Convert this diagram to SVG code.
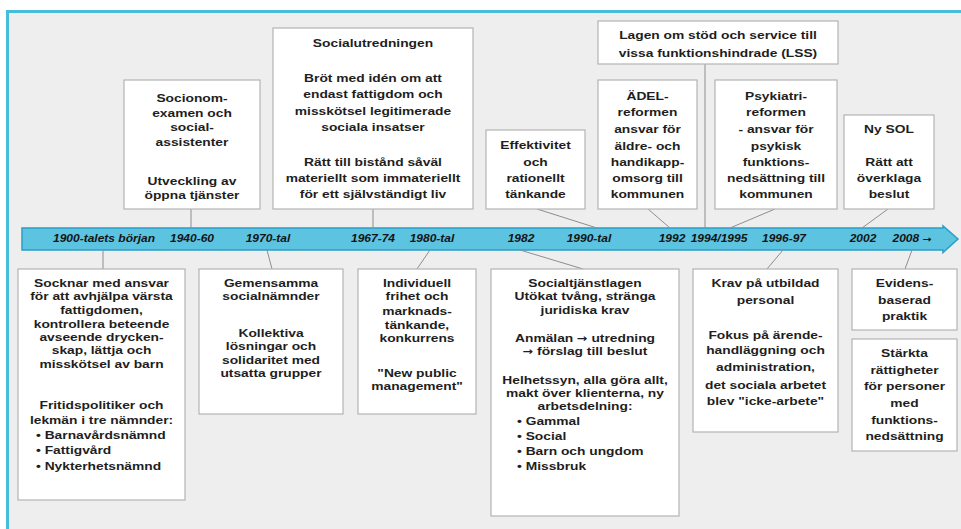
<svg xmlns="http://www.w3.org/2000/svg" width="961" height="529" viewBox="0 0 961 529">
<style>
.t{font-family:"Liberation Sans",Arial,sans-serif;font-weight:bold;font-size:11.5px;fill:#1e1e1e;text-anchor:middle}
.s{text-anchor:start}
.y{font-family:"Liberation Sans",Arial,sans-serif;font-weight:bold;font-style:italic;font-size:10px;fill:#141414;text-anchor:middle}
.a{font-family:"DejaVu Sans",sans-serif;font-style:normal}
.box{fill:#ffffff;stroke:#b4b4b4;stroke-width:1.2}
.c{stroke:#8e8e8e;stroke-width:1;fill:none}
</style>
<rect x="0" y="0" width="961" height="529" fill="#ffffff"/>
<rect x="7.5" y="11.5" width="980" height="540" fill="#eeeeee" stroke="#45bddb" stroke-width="3"/>
<g id="timeline">
<path d="M22,228 H943 V226 L958,239 L943,252.5 V250 H22 Z" fill="#5cc3e0" stroke="#2a9fc6" stroke-width="1.5"/>
<g class="y">
<text transform="matrix(1.2 0 0 1 104 0)" x="0" y="242">1900-talets början</text>
<text transform="matrix(1.2 0 0 1 192 0)" x="0" y="242">1940-60</text>
<text transform="matrix(1.2 0 0 1 268 0)" x="0" y="242">1970-tal</text>
<text transform="matrix(1.2 0 0 1 373 0)" x="0" y="242">1967-74</text>
<text transform="matrix(1.2 0 0 1 432 0)" x="0" y="242">1980-tal</text>
<text transform="matrix(1.2 0 0 1 521 0)" x="0" y="242">1982</text>
<text transform="matrix(1.2 0 0 1 589 0)" x="0" y="242">1990-tal</text>
<text transform="matrix(1.2 0 0 1 672 0)" x="0" y="242">1992</text>
<text transform="matrix(1.2 0 0 1 719 0)" x="0" y="242">1994/1995</text>
<text transform="matrix(1.2 0 0 1 784 0)" x="0" y="242">1996-97</text>
<text transform="matrix(1.2 0 0 1 863 0)" x="0" y="242">2002</text>
<text transform="matrix(1.2 0 0 1 912 0)" x="0" y="242">2008 <tspan class="a" font-size="9">→</tspan></text>
</g>
</g>
<g id="connectors">
<line class="c" x1="191" y1="209" x2="191" y2="228"/>
<line class="c" x1="373" y1="209" x2="373" y2="228"/>
<line class="c" x1="537" y1="209" x2="597" y2="228"/>
<line class="c" x1="648" y1="209" x2="670" y2="228"/>
<line class="c" x1="705" y1="64" x2="705" y2="228"/>
<line class="c" x1="775" y1="209" x2="730" y2="228"/>
<line class="c" x1="888" y1="209" x2="862" y2="228"/>
<line class="c" x1="103" y1="250" x2="103" y2="269"/>
<line class="c" x1="267" y1="250" x2="272" y2="269"/>
<line class="c" x1="430" y1="250" x2="417" y2="269"/>
<line class="c" x1="520" y1="250" x2="583" y2="269"/>
<line class="c" x1="783" y1="250" x2="767" y2="269"/>
<line class="c" x1="912" y1="250" x2="905" y2="269"/>
</g>
<g id="socionom">
<rect class="box" x="124" y="80" width="136" height="129"/>
<text class="t" transform="matrix(1.2 0 0 1 192 0)"><tspan x="0" y="102.5">Socionom-</tspan><tspan x="0" y="117">examen och</tspan><tspan x="0" y="131.5">social-</tspan><tspan x="0" y="146">assistenter</tspan><tspan x="0" y="185">Utveckling av</tspan><tspan x="0" y="199">öppna tjänster</tspan></text>
</g>
<g id="socialutredningen">
<rect class="box" x="273" y="28" width="200" height="181"/>
<text class="t" transform="matrix(1.2 0 0 1 373 0)"><tspan x="0" y="47">Socialutredningen</tspan><tspan x="0" y="82">Bröt med idén om att</tspan><tspan x="0" y="98">endast fattigdom och</tspan><tspan x="0" y="115">misskötsel legitimerade</tspan><tspan x="0" y="131.5">sociala insatser</tspan><tspan x="0" y="166.5">Rätt till bistånd såväl</tspan><tspan x="0" y="182">materiellt som immateriellt</tspan><tspan x="0" y="198">för ett självständigt liv</tspan></text>
</g>
<g id="effektivitet">
<rect class="box" x="486" y="130" width="99" height="79"/>
<text class="t" transform="matrix(1.2 0 0 1 535.5 0)"><tspan x="0" y="149.5">Effektivitet</tspan><tspan x="0" y="166.5">och</tspan><tspan x="0" y="182">rationellt</tspan><tspan x="0" y="198">tänkande</tspan></text>
</g>
<g id="lss">
<rect class="box" x="598" y="21" width="240" height="43"/>
<text class="t" transform="matrix(1.2 0 0 1 718 0)"><tspan x="0" y="39">Lagen om stöd och service till</tspan><tspan x="0" y="57">vissa funktionshindrade (LSS)</tspan></text>
</g>
<g id="adel">
<rect class="box" x="598" y="80" width="99" height="129"/>
<text class="t" transform="matrix(1.2 0 0 1 647.5 0)"><tspan x="0" y="100.5">ÄDEL-</tspan><tspan x="0" y="116.5">reformen</tspan><tspan x="0" y="133">ansvar för</tspan><tspan x="0" y="150">äldre- och</tspan><tspan x="0" y="166.5">handikapp-</tspan><tspan x="0" y="182">omsorg till</tspan><tspan x="0" y="198">kommunen</tspan></text>
</g>
<g id="psykiatri">
<rect class="box" x="715" y="80" width="122" height="129"/>
<text class="t" transform="matrix(1.2 0 0 1 776 0)"><tspan x="0" y="100.5">Psykiatri-</tspan><tspan x="0" y="116.5">reformen</tspan><tspan x="0" y="133">- ansvar för</tspan><tspan x="0" y="150">psykisk</tspan><tspan x="0" y="166.5">funktions-</tspan><tspan x="0" y="182">nedsättning till</tspan><tspan x="0" y="198">kommunen</tspan></text>
</g>
<g id="nysol">
<rect class="box" x="844" y="115" width="90" height="94"/>
<text class="t" transform="matrix(1.2 0 0 1 889 0)"><tspan x="0" y="133">Ny SOL</tspan><tspan x="0" y="166.5">Rätt att</tspan><tspan x="0" y="182">överklaga</tspan><tspan x="0" y="198">beslut</tspan></text>
</g>
<g id="socknar">
<rect class="box" x="18" y="269" width="167" height="231"/>
<text class="t" transform="matrix(1.2 0 0 1 101.5 0)"><tspan x="0" y="287">Socknar med ansvar</tspan><tspan x="0" y="300.5">för att avhjälpa värsta</tspan><tspan x="0" y="314">fattigdomen,</tspan><tspan x="0" y="328">kontrollera beteende</tspan><tspan x="0" y="341">avseende drycken-</tspan><tspan x="0" y="354.5">skap, lättja och</tspan><tspan x="0" y="368">misskötsel av barn</tspan><tspan x="0" y="409">Fritidspolitiker och</tspan><tspan x="0" y="424">lekmän i tre nämnder:</tspan></text>
<text class="t s" transform="matrix(1.2 0 0 1 36 0)"><tspan x="0" y="439">• Barnavårdsnämnd</tspan><tspan x="0" y="454">• Fattigvård</tspan><tspan x="0" y="470">• Nykterhetsnämnd</tspan></text>
</g>
<g id="gemensamma">
<rect class="box" x="199" y="269" width="144" height="145"/>
<text class="t" transform="matrix(1.2 0 0 1 271 0)"><tspan x="0" y="287">Gemensamma</tspan><tspan x="0" y="300.5">socialnämnder</tspan><tspan x="0" y="337">Kollektiva</tspan><tspan x="0" y="350.5">lösningar och</tspan><tspan x="0" y="364">solidaritet med</tspan><tspan x="0" y="377">utsatta grupper</tspan></text>
</g>
<g id="individuell">
<rect class="box" x="358" y="269" width="118" height="145"/>
<text class="t" transform="matrix(1.2 0 0 1 417 0)"><tspan x="0" y="287">Individuell</tspan><tspan x="0" y="300.5">frihet och</tspan><tspan x="0" y="315">marknads-</tspan><tspan x="0" y="329">tänkande,</tspan><tspan x="0" y="342">konkurrens</tspan><tspan x="0" y="377">"New public</tspan><tspan x="0" y="390.5">management"</tspan></text>
</g>
<g id="socialtjanstlagen">
<rect class="box" x="491" y="269" width="188" height="247"/>
<text class="t" transform="matrix(1.2 0 0 1 585 0)"><tspan x="0" y="287">Socialtjänstlagen</tspan><tspan x="0" y="300.5">Utökat tvång, stränga</tspan><tspan x="0" y="314">juridiska krav</tspan><tspan x="0" y="342">Anmälan <tspan class="a" font-size="10.5">→</tspan> utredning</tspan><tspan x="0" y="355.5"><tspan class="a" font-size="10.5">→</tspan> förslag till beslut</tspan><tspan x="0" y="384">Helhetssyn, alla göra allt,</tspan><tspan x="0" y="397">makt över klienterna, ny</tspan><tspan x="0" y="410.5">arbetsdelning:</tspan></text>
<text class="t s" transform="matrix(1.2 0 0 1 517 0)"><tspan x="0" y="425.5">• Gammal</tspan><tspan x="0" y="440">• Social</tspan><tspan x="0" y="455">• Barn och ungdom</tspan><tspan x="0" y="470">• Missbruk</tspan></text>
</g>
<g id="krav">
<rect class="box" x="693" y="269" width="145" height="163"/>
<text class="t" transform="matrix(1.2 0 0 1 765.5 0)"><tspan x="0" y="287">Krav på utbildad</tspan><tspan x="0" y="304.5">personal</tspan><tspan x="0" y="339">Fokus på ärende-</tspan><tspan x="0" y="354.5">handläggning och</tspan><tspan x="0" y="371">administration,</tspan><tspan x="0" y="389">det sociala arbetet</tspan><tspan x="0" y="405.5">blev "icke-arbete"</tspan></text>
</g>
<g id="evidens">
<rect class="box" x="852" y="269" width="105" height="61"/>
<text class="t" transform="matrix(1.2 0 0 1 904.5 0)"><tspan x="0" y="287">Evidens-</tspan><tspan x="0" y="304.5">baserad</tspan><tspan x="0" y="320.5">praktik</tspan></text>
</g>
<g id="starkta">
<rect class="box" x="852" y="339" width="105" height="112"/>
<text class="t" transform="matrix(1.2 0 0 1 904.5 0)"><tspan x="0" y="357">Stärkta</tspan><tspan x="0" y="374">rättigheter</tspan><tspan x="0" y="390.5">för personer</tspan><tspan x="0" y="407">med</tspan><tspan x="0" y="424">funktions-</tspan><tspan x="0" y="440.5">nedsättning</tspan></text>
</g>
</svg>
